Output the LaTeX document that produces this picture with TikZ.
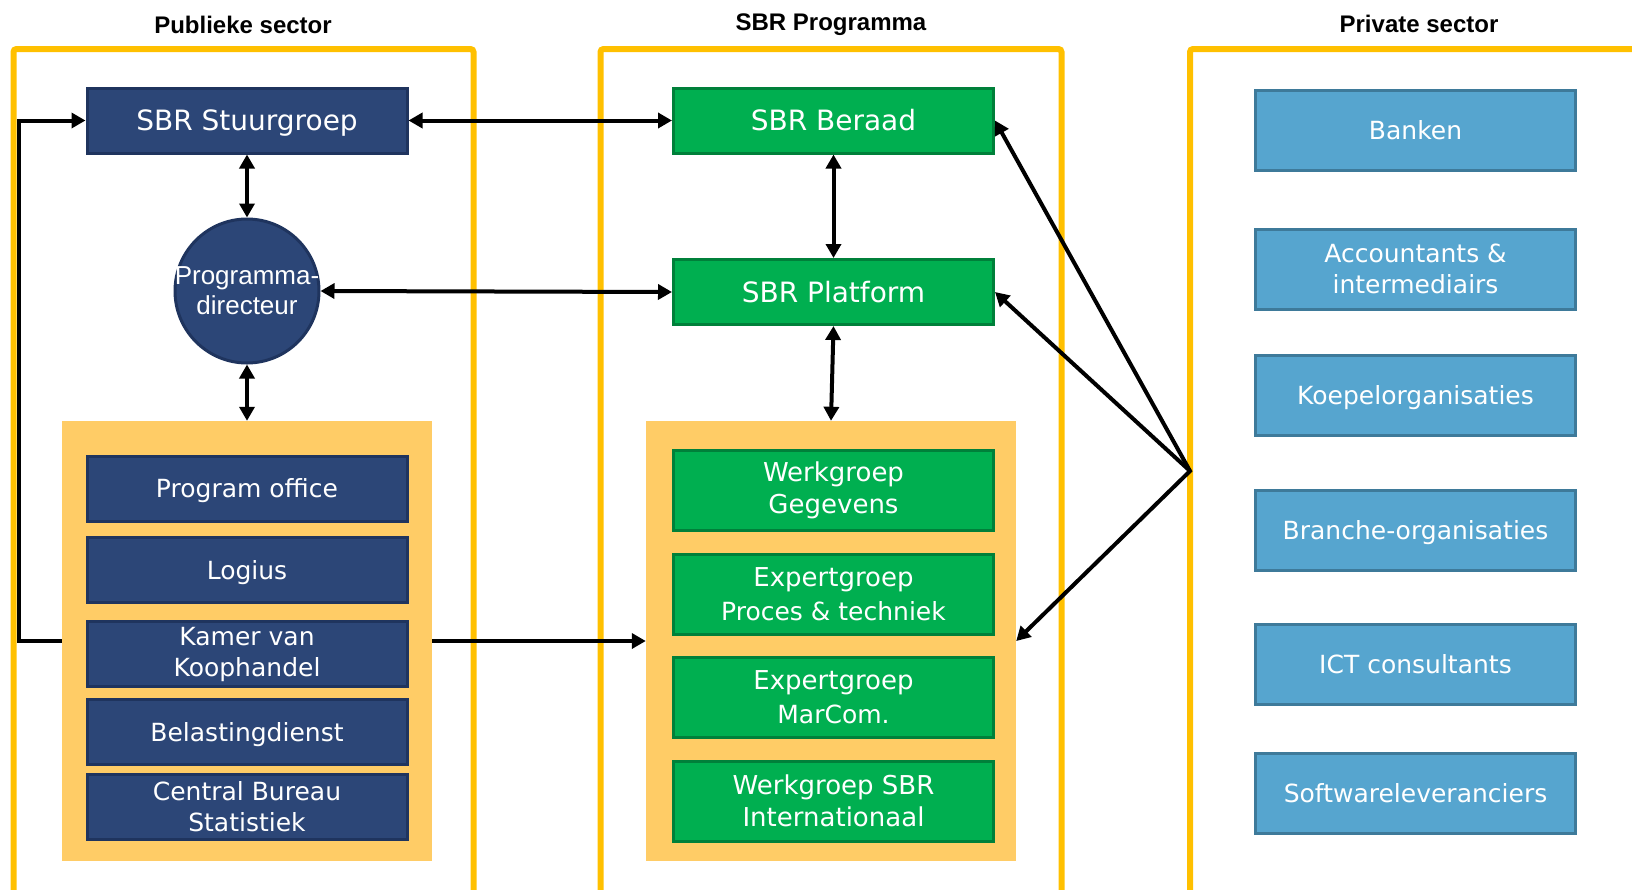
\documentclass[tikz,border=0pt]{standalone}
\usepackage{fontspec}
\setmainfont{DejaVu Sans}
\newfontfamily\arialf{Liberation Sans}
\usetikzlibrary{arrows.meta}
\definecolor{navy}{HTML}{2C4677}
\definecolor{navyd}{HTML}{1F345E}
\definecolor{sgreen}{HTML}{00AF50}
\definecolor{sgreend}{HTML}{00803A}
\definecolor{sblue}{HTML}{56A5CF}
\definecolor{sblued}{HTML}{3E7A9A}
\definecolor{panelc}{HTML}{FFCC66}
\definecolor{framec}{HTML}{FFC000}
\tikzset{
  frame/.style={draw=framec, line width=6pt, rounded corners=3pt},
  panel/.style={fill=panelc, draw=none, inner sep=0pt, minimum width=370pt, minimum height=440pt},
  basebox/.style={line width=3pt, text=white, inner sep=0pt, align=center, minimum width=320pt},
  one/.style={text height=19.5pt, text depth=1pt},
  onebig/.style={text height=21.5pt, text depth=1pt},
  navybox/.style={basebox, fill=navy, draw=navyd, minimum height=65pt, font=\fontsize{25}{31}\selectfont},
  greenbox/.style={basebox, fill=sgreen, draw=sgreend, minimum height=80pt, font=\fontsize{26}{32}\selectfont},
  greentop/.style={greenbox, minimum height=65pt, font=\fontsize{28}{33}\selectfont},
  bluebox/.style={basebox, fill=sblue, draw=sblued, minimum height=80pt, font=\fontsize{25}{31}\selectfont},
  title/.style={font=\arialf\bfseries\fontsize{24}{28}\selectfont, inner sep=0pt},
  arr/.style={line width=4pt, -{Triangle[length=14pt,width=15pt]}},
  darr/.style={line width=4pt, {Triangle[length=14pt,width=15pt]}-{Triangle[length=14pt,width=15pt]}},
}
\begin{document}
\begin{tikzpicture}[x=1pt,y=-1pt]
\useasboundingbox (0,0) rectangle (1632,889);
% frames
\begin{scope}
\clip (0,0) rectangle (1632,889);
\draw[frame] (13.5,920) -- (13.5,49) -- (473.5,49) -- (473.5,920);
\draw[frame] (600.5,920) -- (600.5,49) -- (1061.5,49) -- (1061.5,920);
\draw[frame] (1190,920) -- (1190,49) -- (1660,49);
\end{scope}
% titles
\node[title] (t1) at (243,25) {Publieke sector};
\node[title] (t2) at (831,25) {SBR Programma};
\node[title] (t3) at (1419,24) {Private sector};
% panels
\node[panel] (lp) at (247,641) {};
\node[panel] (mp) at (831,641) {};
% left column
\node[navybox, onebig, font=\fontsize{28}{31}\selectfont] (st) at (247,120.5) {SBR Stuurgroep};
\node[circle, fill=navy, draw=navyd, line width=3pt, minimum size=144pt, inner sep=0pt, text=white, align=center, font=\arialf\fontsize{26}{30}\selectfont] (pd) at (247,291) {\makebox[0pt]{Programma-}\\\makebox[0pt]{directeur}};
\node[navybox, one] (po) at (247,488.5) {Program office};
\node[navybox, one] (lo) at (247,570) {Logius};
\node[navybox] (kk) at (247,654) {Kamer van\\Koophandel};
\node[navybox, one] (bd) at (247,732) {Belastingdienst};
\node[navybox] (cbs) at (247,807) {Central Bureau\\Statistiek};
% middle column
\node[greentop, onebig] (br) at (833.5,120.5) {SBR Beraad};
\node[greentop, onebig] (pf) at (833.5,292) {SBR Platform};
\node[greenbox] (wg) at (833.5,490) {Werkgroep\\Gegevens};
\node[greenbox] (ep) at (833.5,594) {Expertgroep\\[2pt]{\fontsize{25}{30}\selectfont Proces \& techniek}};
\node[greenbox] (em) at (833.5,697.5) {Expertgroep\\[2pt]{\fontsize{25}{30}\selectfont MarCom.}};
\node[greenbox] (wi) at (833.5,801) {Werkgroep SBR\\Internationaal};
% right column
\node[bluebox, one] (b1) at (1415.5,130.5) {Banken};
\node[bluebox] (b2) at (1415.5,269) {Accountants \&\\intermediairs};
\node[bluebox, one] (b3) at (1415.5,395.5) {Koepelorganisaties};
\node[bluebox, one] (b4) at (1415.5,530) {Branche-organisaties};
\node[bluebox, one] (b5) at (1415.5,664.5) {ICT consultants};
\node[bluebox, one] (b6) at (1415.5,793.5) {Softwareleveranciers};
% connectors
\draw[darr] (st.east) -- (br.west);
\draw[darr] (st.south) -- (pd.north);
\draw[darr] (pd.south) -- (lp.north);
\draw[darr] (pd.east) -- (pf.west);
\draw[darr] (br.south) -- (pf.north);
\draw[darr] (pf.south) -- (mp.north);
\draw[arr] (lp.east) -- (mp.west);
\draw[arr] (lp.west) -- ++(-43,0) |- (st.west);
\coordinate (jn) at (1190,471);
\draw[darr, line join=miter] (br.east) -- (jn) -- (mp.east);
\draw[arr] (jn) -- (pf.east);
\end{tikzpicture}
\end{document}
